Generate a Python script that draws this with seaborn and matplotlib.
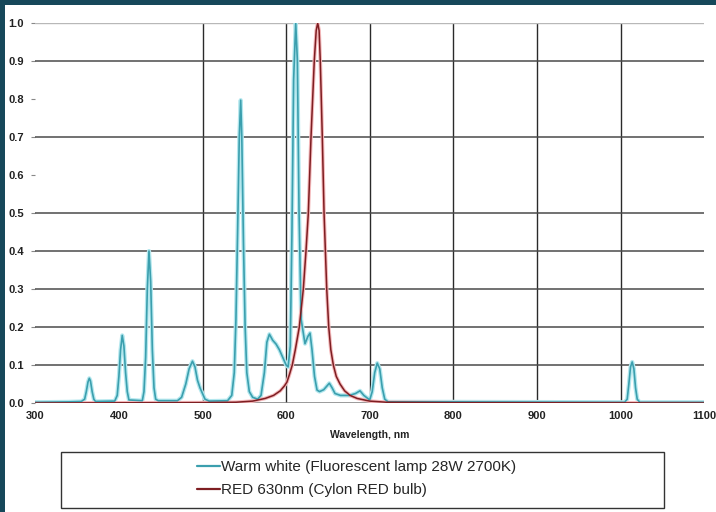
import matplotlib
matplotlib.use("Agg")
import matplotlib.pyplot as plt
import seaborn as sns
import pandas as pd
from matplotlib.patches import Rectangle
from matplotlib.lines import Line2D

# Warm white fluorescent lamp spectrum
warm_wl = [300, 340, 355, 359, 361, 363, 364.6, 366, 368, 370, 372,
           395, 398, 400, 402, 404, 406, 408, 410, 412,
           428, 430, 432, 434, 436, 438, 440, 442, 444, 447,
           470, 475, 480, 484, 488, 491, 494, 497, 500, 503, 508,
           530, 535, 538, 540, 542, 544, 545.7, 547, 549, 551, 553, 556, 560,
           566, 570, 574, 577, 580, 584, 588, 592, 596, 600, 602.4,
           605, 607, 609, 611.5, 613.5, 615.5, 618, 622.6, 626, 628.6, 631,
           634, 637, 640, 645, 651.7, 655, 658.5, 665, 676, 683, 688.4, 693,
           700, 703, 706, 709, 712, 715, 718, 722,
           800, 1005, 1008, 1010, 1012, 1014, 1016, 1018, 1020, 1023, 1100]
warm_val = [0.002, 0.003, 0.004, 0.01, 0.03, 0.055, 0.065, 0.058, 0.03, 0.01, 0.004,
            0.005, 0.02, 0.07, 0.14, 0.178, 0.15, 0.08, 0.03, 0.008,
            0.006, 0.03, 0.12, 0.30, 0.40, 0.32, 0.14, 0.04, 0.01, 0.006,
            0.006, 0.015, 0.05, 0.09, 0.11, 0.095, 0.06, 0.04, 0.025, 0.01, 0.005,
            0.006, 0.02, 0.08, 0.22, 0.45, 0.70, 0.797, 0.70, 0.42, 0.20, 0.08, 0.03, 0.015,
            0.01, 0.02, 0.08, 0.16, 0.181, 0.165, 0.155, 0.14, 0.12, 0.10, 0.095,
            0.15, 0.45, 0.85, 1.0, 0.90, 0.50, 0.22, 0.156, 0.175, 0.184, 0.14,
            0.07, 0.034, 0.03, 0.035, 0.052, 0.04, 0.025, 0.02, 0.02, 0.025, 0.032, 0.02,
            0.008, 0.03, 0.08, 0.105, 0.09, 0.04, 0.01, 0.003,
            0.003, 0.002, 0.01, 0.05, 0.095, 0.108, 0.09, 0.04, 0.01, 0.002, 0.002]

# RED 630nm bulb spectrum
red_wl = [300, 500, 540, 560, 575, 585, 593, 598, 601, 604, 607.4, 611, 615.8,
          620.6, 623.8, 626.6, 629.8, 633.7, 636, 637.8, 639.5, 640.9, 643.3,
          645.4, 647, 648.6, 651, 653.5, 656.5, 660, 664.5, 670, 676.5, 685,
          700, 720, 800, 1100]
red_val = [0.0, 0.001, 0.002, 0.005, 0.012, 0.02, 0.032, 0.045, 0.055, 0.075, 0.10, 0.14, 0.20,
           0.30, 0.40, 0.50, 0.70, 0.90, 0.98, 1.0, 0.98, 0.90, 0.70,
           0.50, 0.40, 0.30, 0.20, 0.14, 0.10, 0.07, 0.05, 0.032, 0.02, 0.012,
           0.005, 0.002, 0.001, 0.0]

labels = ["Warm white (Fluorescent lamp 28W 2700K)", "RED 630nm (Cylon RED bulb)"]
x_ticks = [300, 400, 500, 600, 700, 800, 900, 1000, 1100]
y_ticks = [0.0, 0.1, 0.2, 0.3, 0.4, 0.5, 0.6, 0.7, 0.8, 0.9, 1.0]
# gridlines actually visible in the picture
x_grid = [500, 600, 700, 800, 900, 1000]
y_grid = [0.1, 0.2, 0.3, 0.4, 0.5, 0.7, 0.9]

cyan, cyan_glow = "#3b9fae", "#b3e7ee"
red, red_glow = "#7e1e22", "#f4b8ba"

sns.set_theme(style="white")
plt.rcParams["font.family"] = ["Liberation Sans Narrow", "Liberation Sans", "DejaVu Sans"]

warm = pd.DataFrame({"wl": warm_wl, "val": warm_val})
bulb = pd.DataFrame({"wl": red_wl, "val": red_val})

fig = plt.figure(figsize=(7.16, 5.12), dpi=100)
fig.patch.set_facecolor("white")
ax = fig.add_axes([35.3 / 716, 109 / 512, (704.1 - 35.3) / 716, 380 / 512])

for gx in x_grid:
    ax.axvline(gx, color="#2a2a2a", lw=1.0, zorder=1)
for gy in y_grid:
    ax.axhline(gy, color="#4a4a4a", lw=1.1, zorder=1)
ax.axhline(1.0, color="#b8b8b8", lw=1.0, zorder=1)
ax.axhline(0.0, color="#8a8a8a", lw=1.2, zorder=1)

# soft glow under each line, like the blurry source image
sns.lineplot(data=warm, x="wl", y="val", ax=ax, color=cyan_glow, lw=3.0,
             estimator=None, sort=False, zorder=2)
sns.lineplot(data=bulb, x="wl", y="val", ax=ax, color=red_glow, lw=2.6,
             estimator=None, sort=False, zorder=2)
sns.lineplot(data=warm, x="wl", y="val", ax=ax, color=cyan, lw=1.2,
             estimator=None, sort=False, zorder=3)
sns.lineplot(data=bulb, x="wl", y="val", ax=ax, color=red, lw=1.1,
             estimator=None, sort=False, zorder=4)

ax.set_xlim(300, 1100)
ax.set_ylim(0, 1.0)
ax.set_xticks(x_ticks)
ax.set_yticks(y_ticks)
ax.set_yticklabels([f"{v:.1f}" for v in y_ticks])
ax.tick_params(axis="y", length=3, width=0.8, color="#888888", pad=5,
               labelsize=8, direction="out", left=True)
ax.tick_params(axis="x", length=0, pad=6, labelsize=8)
for t in ax.get_xticklabels() + ax.get_yticklabels():
    t.set_fontweight("bold")
    t.set_color("#222222")
ax.set_xlabel("Wavelength, nm", fontsize=7.5, fontweight="bold", color="#222222", labelpad=6)
ax.set_ylabel("")
for s in ax.spines.values():
    s.set_visible(False)

# legend box
fig.patches.append(Rectangle((61 / 716, 1 - 508 / 512), (664 - 61) / 716, 56 / 512,
                             transform=fig.transFigure, fill=False,
                             edgecolor="#333333", lw=1.0))
handles = [Line2D([], [], color=cyan, lw=1.6), Line2D([], [], color=red, lw=1.6)]
fig.legend(handles, labels, loc="upper left", bbox_to_anchor=(197 / 716, 1 - 460 / 512),
           frameon=False, fontsize=11, handlelength=1.5, handletextpad=0.1,
           labelspacing=0.6, borderpad=0, borderaxespad=0)

# dark frame on the left and top edges
fig.patches.append(Rectangle((0, 0), 5 / 716, 1, transform=fig.transFigure,
                             color="#16485a", lw=0))
fig.patches.append(Rectangle((0, 1 - 5 / 512), 1, 5 / 512, transform=fig.transFigure,
                             color="#16485a", lw=0))

fig.savefig("out.png", dpi=100)
